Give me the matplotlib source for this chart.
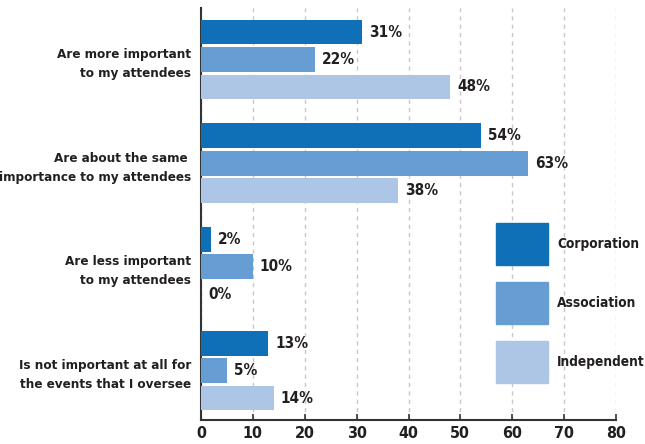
import numpy as np
import matplotlib.pyplot as plt
from matplotlib.patches import Rectangle

# ---------------------------------------------------------------
# Data
# ---------------------------------------------------------------

categories = [
    "Are more important\nto my attendees",
    "Are about the same \nimportance to my attendees",
    "Are less important\nto my attendees",
    "Is not important at all for\nthe events that I oversee",
]
series_names = ["Corporation", "Association", "Independent"]
corporation = [31, 54, 2, 13]
association = [22, 63, 10, 5]
independent = [48, 38, 0, 14]
x_ticks = [0, 10, 20, 30, 40, 50, 60, 70, 80]

colors = ["#0f70b7", "#669dd2", "#adc6e6"]
text_color = "#231f20"

# condensed bold face
plt.rcParams["font.family"] = ["DejaVu Sans"]
plt.rcParams["font.stretch"] = "condensed"
plt.rcParams["font.weight"] = "bold"

fig = plt.figure(figsize=(6.45, 4.44), dpi=100)
ax = fig.add_axes([201 / 645, 24 / 444, 415 / 645, 412 / 444])

y = np.arange(len(categories))
bar_h = 0.24
offset = 0.265
all_values = [corporation, association, independent]

for i, (name, vals) in enumerate(zip(series_names, all_values)):
    bars = ax.barh(y + (i - 1) * offset, vals, height=bar_h,
                   color=colors[i], label=name, zorder=3)
    ax.bar_label(bars, labels=["%d%%" % v for v in vals], padding=5,
                 fontsize=11, fontweight="bold", color=text_color)

ax.set_ylim(len(categories) - 1 + 0.477, -0.497)
ax.set_xlim(0, 80)
ax.set_xticks(x_ticks)
ax.set_xticklabels([str(t) for t in x_ticks], fontsize=11.5,
                   fontweight="bold", color=text_color)
ax.set_yticks(y)
ax.set_yticklabels(categories, fontsize=9.6, fontweight="bold",
                   color=text_color, linespacing=1.6)
ax.tick_params(axis="y", length=0, pad=7)
ax.tick_params(axis="x", direction="in", length=4, width=1.2,
               color="#333333", pad=4)

ax.grid(axis="x", color="#c8c8c8", linestyle=(0, (3, 3)), linewidth=1, zorder=0)
for s in ["top", "right"]:
    ax.spines[s].set_visible(False)
for s in ["left", "bottom"]:
    ax.spines[s].set_color("#333333")
    ax.spines[s].set_linewidth(1.5)

# legend drawn as boxes in figure pixels
W, H = 645.0, 444.0
box_tops = [223, 282, 341]
for name, col, top in zip(series_names, colors, box_tops):
    fig.patches.append(Rectangle((496 / W, 1 - (top + 42) / H), 52 / W, 42 / H,
                                 transform=fig.transFigure, color=col, zorder=5))
    fig.text(557 / W, 1 - (top + 21) / H, name, fontsize=9.8, fontweight="bold",
             color=text_color, va="center", ha="left", zorder=6)

fig.savefig("out.png", dpi=100)
